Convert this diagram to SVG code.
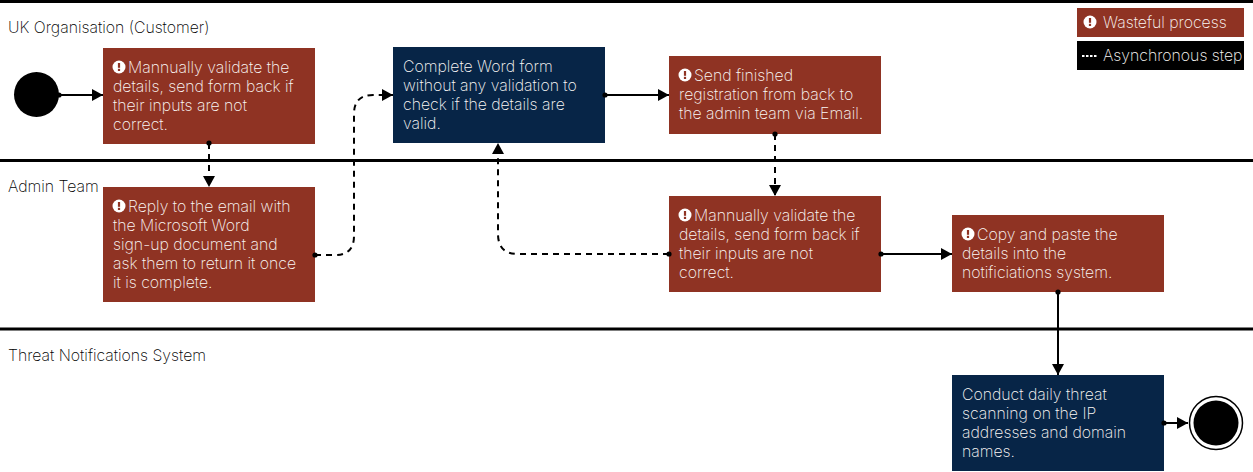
<svg xmlns="http://www.w3.org/2000/svg" width="1253" height="472" viewBox="0 0 1253 472">
<style>
text{font-family:"Inter","Roboto","Liberation Sans",sans-serif;font-weight:250;font-size:15.8px;fill:#000}
.w text,text.w{fill:#fbf8f6;font-weight:250}
.red{fill:#8f3323}.blue{fill:#072547}
.lane{stroke:#000;stroke-width:3;fill:none}
.c{fill:none;stroke:#000;stroke-width:2}
.d{stroke-dasharray:6 5}
.dot{fill:#000}
.ic{fill:#fff}
.ix{fill:#8f3323}
</style>
<defs>
<marker id="a" markerUnits="userSpaceOnUse" markerWidth="12" markerHeight="12" refX="11" refY="6" orient="auto"><path d="M0 0L11 6L0 12z" fill="#000"/></marker>
<g id="warn"><circle r="6.5" class="ic"/><rect x="-1.1" y="-4" width="2.2" height="4.8" class="ix"/><rect x="-1.1" y="1.8" width="2.2" height="2.2" class="ix"/></g>
</defs>
<g id="lanes">
<path class="lane" d="M0 1.5H1253M0 160.5H1253M0 329H1253"/>
<text x="8" y="33">UK Organisation (Customer)</text>
<text x="8" y="192">Admin Team</text>
<text x="8" y="361">Threat Notifications System</text>
</g>
<g id="connectors">
<path class="c" d="M59 95H103" marker-end="url(#a)"/>
<path class="c d" d="M209 143V187" marker-end="url(#a)"/>
<path class="c d" d="M315 255H335Q354 255 354 236V114Q354 95 373 95H393" marker-end="url(#a)"/>
<path class="c" d="M605 95H669" marker-end="url(#a)"/>
<path class="c d" d="M775 134V196" marker-end="url(#a)"/>
<path class="c d" d="M669 254H518Q498 254 498 234V143" marker-end="url(#a)"/>
<path class="c" d="M881 254H952" marker-end="url(#a)"/>
<path class="c" d="M1058 292V375" marker-end="url(#a)"/>
<path class="c" d="M1164 423H1188" marker-end="url(#a)"/>
</g>
<g id="start"><circle cx="36.500" cy="94.500" r="22.500" fill="#000"/></g>
<g id="n1" class="w"><rect class="red" x="103" y="48" width="212" height="96"/><use href="#warn" x="119" y="67"/><text x="128" y="73">Mannually validate the</text><text x="113" y="92">details, send form back if</text><text x="113" y="111">their inputs are not</text><text x="113" y="130">correct.</text></g>
<g id="n2" class="w"><rect class="red" x="103" y="187" width="212" height="115"/><use href="#warn" x="119" y="206"/><text x="128" y="212">Reply to the email with</text><text x="113" y="231">the Microsoft Word</text><text x="113" y="250">sign-up document and</text><text x="113" y="269">ask them to return it once</text><text x="113" y="288">it is complete.</text></g>
<g id="n3" class="w"><rect class="blue" x="393" y="47" width="212" height="96"/><text x="403" y="72">Complete Word form</text><text x="403" y="91">without any validation to</text><text x="403" y="110">check if the details are</text><text x="403" y="129">valid.</text></g>
<g id="n4" class="w"><rect class="red" x="669" y="56" width="212" height="78"/><use href="#warn" x="685" y="75"/><text x="694" y="81">Send finished</text><text x="679" y="100">registration from back to</text><text x="679" y="119">the admin team via Email.</text></g>
<g id="n5" class="w"><rect class="red" x="669" y="196" width="212" height="96"/><use href="#warn" x="685" y="215"/><text x="694" y="221">Mannually validate the</text><text x="679" y="240">details, send form back if</text><text x="679" y="259">their inputs are not</text><text x="679" y="278">correct.</text></g>
<g id="n6" class="w"><rect class="red" x="952" y="215" width="212" height="77"/><use href="#warn" x="968" y="234"/><text x="977" y="240">Copy and paste the</text><text x="962" y="259">details into the</text><text x="962" y="278">notificiations system.</text></g>
<g id="n7" class="w"><rect class="blue" x="952" y="375" width="212" height="96"/><text x="962" y="400">Conduct daily threat</text><text x="962" y="419">scanning on the IP</text><text x="962" y="438">addresses and domain</text><text x="962" y="457">names.</text></g>
<g id="end"><circle cx="1216" cy="423" r="26.500" fill="#fff" stroke="#000" stroke-width="1.500"/><circle cx="1216" cy="423" r="22.500" fill="#000"/></g>
<g id="legend" class="w">
<rect class="red" x="1077" y="8" width="167" height="29"/><use href="#warn" x="1090" y="22"/><text x="1103" y="28">Wasteful process</text>
<rect x="1077" y="41" width="167" height="29" fill="#000"/><path d="M1082 56H1098" stroke="#fff" stroke-width="2" stroke-dasharray="2.500 1.500"/><text x="1103" y="61">Asynchronous step</text>
</g>
<g id="dots" class="dot">
<circle cx="59" cy="95" r="2.600"/><circle cx="209" cy="143" r="2.600"/><circle cx="315" cy="255" r="2.600"/><circle cx="605" cy="95" r="2.600"/><circle cx="775" cy="134" r="2.600"/><circle cx="669" cy="254" r="2.600"/><circle cx="881" cy="254" r="2.600"/><circle cx="1058" cy="292" r="2.600"/><circle cx="1164" cy="423" r="2.600"/>
</g>
</svg>
